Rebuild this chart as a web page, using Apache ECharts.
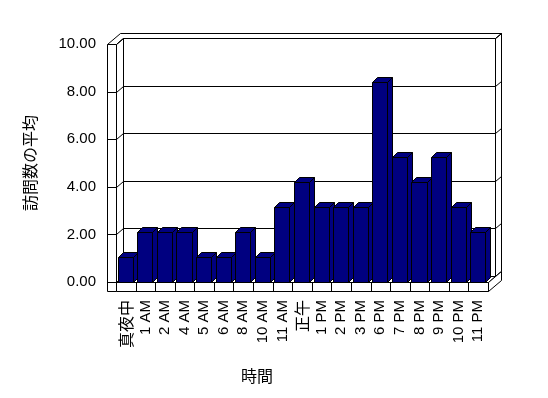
<!DOCTYPE html>
<html>
<head>
<meta charset="utf-8">
<script src="https://cdn.jsdelivr.net/npm/echarts@6/dist/echarts.min.js"></script>
<style>html,body{margin:0;padding:0;background:#fff;}#c{width:548px;height:398px;}</style>
</head>
<body>
<div id="c"></div>
<script>
const categories = ['真夜中','1 AM','2 AM','4 AM','5 AM','6 AM','8 AM','10 AM','11 AM','正午','1 PM','2 PM','3 PM','6 PM','7 PM','8 PM','9 PM','10 PM','11 PM'];
const visits = [1,2,2,2,1,1,2,1,3,4,3,3,3,8,5,4,5,3,2];
const yTicks = [0,2,4,6,8,10];
const xTitle = '時間';
const yTitle = '訪問数の平均';

const LATIN = "'Liberation Sans', Arial, sans-serif";
const CJK = "'Noto Sans CJK JP', sans-serif";
const NAVY = '#000080';

const hp = v => Math.round(v) + 0.5;
const poly = (pts, fill) => ({type:'polygon', shape:{points: pts.map(p => [hp(p[0]), hp(p[1])])}, style:{fill: fill || '#fff', stroke:'#000', lineWidth:1}});
const seg = (x1,y1,x2,y2) => ({type:'line', shape:{x1:hp(x1),y1:hp(y1),x2:hp(x2),y2:hp(y2)}, style:{stroke:'#000', lineWidth:1, fill:null}});

function renderFrame(params, api) {
  const cs = params.coordSys;
  const L = cs.x, T = cs.y, R = cs.x + cs.width, B = cs.y + cs.height;
  const dx = 7, dy = -6, bx = 6, by = -5, s = 9;
  const ch = [];
  ch.push(poly([[L+dx,T+dy],[R+dx,T+dy],[R+dx,B+dy],[L+dx,B+dy]]));
  ch.push(poly([[R+dx,T+dy],[R+dx+bx,T+dy+by],[R+dx+bx,B+dy+by],[R+dx,B+dy]]));
  ch.push(poly([[L-s,T],[L,T],[L+dx,T+dy],[R+dx,T+dy],[R+dx+bx,T+dy+by],[L-s+dx+bx,T+dy+by]]));
  ch.push(poly([[L,T],[L+dx,T+dy],[L+dx,B+dy],[L,B]]));
  const ys = yTicks.map(v => api.coord([0, v])[1]);
  ys.forEach(y => {
    ch.push(seg(L+dx, y+dy, R+dx, y+dy));
    ch.push(seg(R+dx, y+dy, R+dx+bx, y+dy+by));
    ch.push(seg(L, y, L+dx, y+dy));
  });
  ch.push(poly([[L,B],[R,B],[R+dx,B+dy],[L+dx,B+dy]]));
  ch.push(poly([[L,B],[R,B],[R,B+s],[L,B+s]]));
  const n = categories.length;
  for (let i = 1; i < n; i++) {
    const x = L + i * cs.width / n;
    ch.push(seg(x, B, x, B+s));
  }
  ch.push(poly([[R,B],[R+dx+bx,B+dy+by],[R+dx+bx,B+s+dy+by],[R,B+s]]));
  ch.push(poly([[L-s,T],[L,T],[L,B+s],[L-s,B+s]]));
  ys.forEach(y => { if (y > T + 1) ch.push(seg(L-s, y, L, y)); });
  return {type:'group', children: ch};
}

function renderBar(params, api) {
  const i = api.value(0);
  const top = api.coord([i, api.value(1)]);
  const base = api.coord([i, 0]);
  const bw = api.size([1, 0])[0] * 0.77;
  const x0 = top[0] - bw/2 - 0.5, x1 = x0 + bw;
  const ty = top[1], by0 = base[1];
  const ddx = 5, ddy = -5;
  return {type:'group', children: [
    poly([[x1,ty],[x1+ddx,ty+ddy],[x1+ddx,by0+ddy],[x1,by0]], NAVY),
    poly([[x0,ty],[x1,ty],[x1+ddx,ty+ddy],[x0+ddx,ty+ddy]], NAVY),
    poly([[x0,ty],[x1,ty],[x1,by0],[x0,by0]], NAVY)
  ]};
}

const chart = echarts.init(document.getElementById('c'), null, {renderer:'canvas'});
chart.setOption({
  animation: false,
  backgroundColor: '#fff',
  title: {text: xTitle, left: 241, top: 368, padding: 0,
    textStyle: {fontSize: 16, fontWeight: 'normal', color: '#000', fontFamily: CJK}},
  grid: {left: 116, right: 60, top: 44, bottom: 116},
  xAxis: {
    type: 'category', data: categories, boundaryGap: true,
    axisLine: {show: false}, axisTick: {show: false}, splitLine: {show: false},
    axisLabel: {
      rotate: 90, margin: 18, interval: 0, color: '#000', fontSize: 15, fontFamily: LATIN,
      formatter: v => /[^\x00-\x7F]/.test(v) ? '{c|' + v + '}' : v,
      rich: {c: {fontSize: 16, fontFamily: CJK, color: '#000'}}
    }
  },
  yAxis: [{
    type: 'value', min: 0, max: 10, interval: 2,
    axisLine: {show: false}, axisTick: {show: false}, splitLine: {show: false},
    axisLabel: {margin: 20, color: '#000', fontSize: 15, fontFamily: LATIN, formatter: v => v.toFixed(2)},
    name: yTitle, nameLocation: 'middle', nameRotate: 90, nameGap: 78,
    nameTextStyle: {fontSize: 16, fontFamily: CJK, color: '#000'}
  }, {
    type: 'value', min: 0, max: 9.52, show: false
  }],
  series: [{
    type: 'custom', name: 'frame', silent: true, z: 1,
    xAxisIndex: 0, yAxisIndex: 0,
    data: [[0, 0]], renderItem: renderFrame
  }, {
    type: 'custom', name: '訪問数の平均', silent: true, z: 2,
    xAxisIndex: 0, yAxisIndex: 1,
    encode: {x: 0, y: 1},
    data: visits.map((v, i) => [i, v]), renderItem: renderBar
  }]
});
</script>
</body>
</html>
